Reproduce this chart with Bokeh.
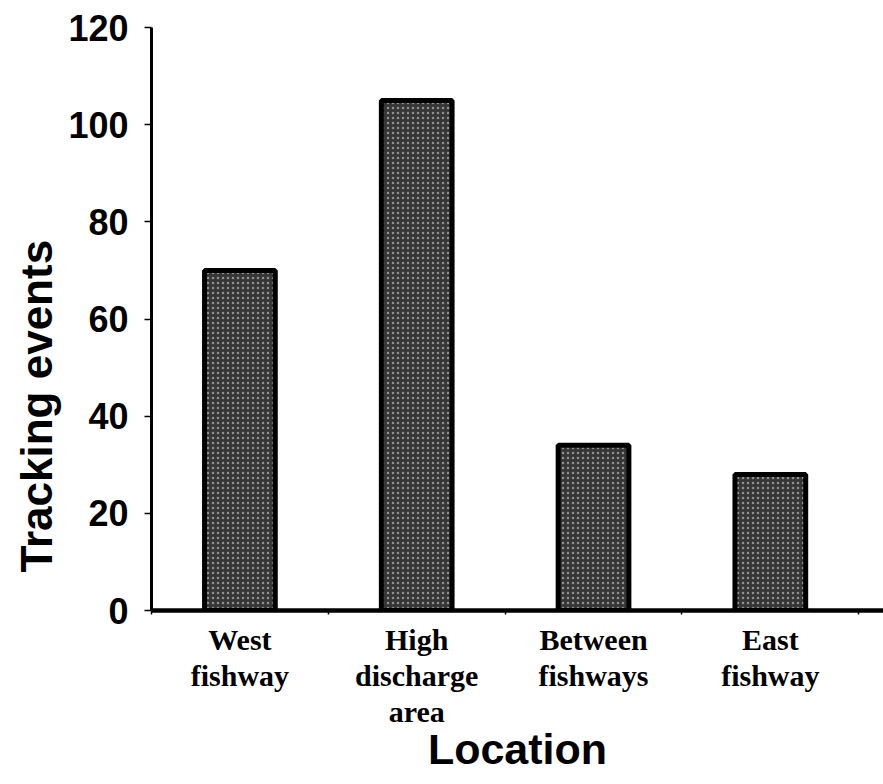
from bokeh.plotting import figure
from bokeh.models import Range1d, FixedTicker, Title
from bokeh.embed import file_html
from bokeh.resources import INLINE

categories = ["West\nfishway", "High\ndischarge\narea", "Between\nfishways", "East\nfishway"]
tracking_events = [70, 105, 34, 28]
y_ticks = [0, 20, 40, 60, 80, 100, 120]
x_title = "Location"
y_title = "Tracking events"

positions = list(range(1, len(categories) + 1))
boundaries = [x - 0.5 for x in positions] + [positions[-1] + 0.5]

p = figure(width=883, height=784, output_backend="svg", toolbar_location=None,
           x_range=Range1d(0.5, 4.64), y_range=Range1d(0, 120),
           min_border_left=151, min_border_top=27, min_border_right=0,
           min_border_bottom=174)
p.background_fill_color = "white"
p.border_fill_color = "white"
p.outline_line_color = None
p.xgrid.visible = False
p.ygrid.visible = False

p.vbar(x=positions, top=tracking_events, bottom=0, width=0.40,
       fill_color="#363636", line_color="black", line_width=5,
       hatch_pattern="dot", hatch_color="white", hatch_scale=5,
       hatch_weight=1.5, hatch_alpha=0.45)

# y axis
ya = p.yaxis[0]
ya.ticker = FixedTicker(ticks=y_ticks, minor_ticks=[])
ya.axis_line_width = 3
ya.axis_line_color = "black"
ya.major_tick_out = 7
ya.major_tick_in = 0
ya.major_tick_line_width = 1.5
ya.major_label_standoff = 16
ya.major_label_text_font = "Liberation Sans"
ya.major_label_text_font_style = "bold"
ya.major_label_text_font_size = "36px"
ya.major_label_text_color = "black"

# x axis
xa = p.xaxis[0]
xa.ticker = FixedTicker(ticks=positions, minor_ticks=boundaries)
xa.major_label_overrides = {pos: lab for pos, lab in zip(positions, categories)}
xa.axis_line_width = 4.5
xa.axis_line_color = "black"
xa.major_tick_out = 0
xa.major_tick_in = 0
xa.minor_tick_out = 4
xa.minor_tick_in = 0
xa.minor_tick_line_width = 1.5
xa.major_label_standoff = 8
xa.major_label_text_font = "Liberation Serif"
xa.major_label_text_font_style = "bold"
xa.major_label_text_font_size = "30px"
xa.major_label_text_line_height = 1.1
xa.major_label_text_color = "black"
xa.axis_label = x_title
xa.axis_label_text_font = "Liberation Sans"
xa.axis_label_text_font_style = "bold"
xa.axis_label_text_font_size = "43px"
xa.axis_label_text_color = "black"
xa.axis_label_standoff = -6

t = Title(text=y_title, align="left", offset=38,
          text_font="Liberation Sans", text_font_style="bold",
          text_font_size="44px", text_color="black")
p.add_layout(t, "left")

open("out.html", "w").write(file_html(p, INLINE))
